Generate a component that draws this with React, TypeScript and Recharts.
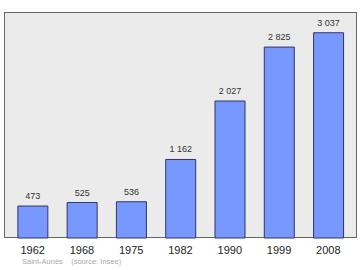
import { BarChart, Bar, XAxis, YAxis, LabelList } from 'recharts'

const years = ['1962', '1968', '1975', '1982', '1990', '1999', '2008']
const population = [473, 525, 536, 1162, 2027, 2825, 3037]

const data = years.map((year, i) => ({ year, population: population[i] }))

// French-style thousands separator with a no-break space so the label does not wrap
const formatPop = (v: number) => String(v).replace(/\B(?=(\d{3})+(?!\d))/g, '\u00a0')

const FONT = '"Liberation Sans", Arial, sans-serif'

export default function App() {
  return (
    <div
      style={{
        position: 'absolute',
        top: 0,
        left: 0,
        width: 360,
        height: 270,
        background: '#fff',
        fontFamily: FONT,
      }}
    >
      {/* framed plot background */}
      <div
        style={{
          position: 'absolute',
          left: 4,
          top: 12,
          width: 353,
          height: 226,
          background: '#ebebeb',
          border: '1px solid #666',
          boxSizing: 'border-box',
        }}
      />
      <div style={{ position: 'absolute', top: 0, left: 0 }}>
        <BarChart
          width={360}
          height={270}
          data={data}
          margin={{ top: 12, right: 7, bottom: 2, left: 8 }}
          barCategoryGap="20%"
        >
          <XAxis
            dataKey="year"
            axisLine={false}
            tickLine={false}
            interval={0}
            height={30}
            tick={{ fontSize: 11, fill: '#222', fontFamily: FONT }}
          />
          <YAxis hide domain={[0, 3344]} />
          <Bar
            dataKey="population"
            fill="#7799ff"
            stroke="#333366"
            strokeWidth={1}
            isAnimationActive={false}
          >
            <LabelList
              dataKey="population"
              position="top"
              offset={7}
              formatter={(v: any) => formatPop(Number(v))}
              style={{ fontSize: 9, fill: '#333', fontFamily: FONT }}
            />
          </Bar>
        </BarChart>
      </div>
      <div
        style={{
          position: 'absolute',
          left: 22,
          top: 257,
          fontSize: 7.5,
          color: '#aaa',
          whiteSpace: 'pre',
        }}
      >
        {'Saint-Aunès    (source: Insee)'}
      </div>
    </div>
  )
}
